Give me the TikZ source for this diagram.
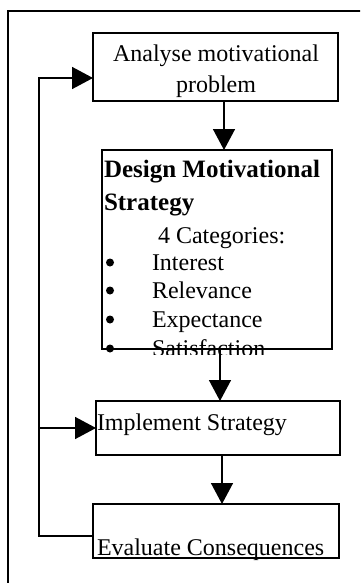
\documentclass[tikz,border=0pt]{standalone}
\usepackage{fontspec}
\setmainfont{Liberation Serif}
\usetikzlibrary{arrows.meta}
\begin{document}
\begin{tikzpicture}[x=1pt,y=-1pt,
  line width=1.5pt,
  box/.style={draw, line width=1.5pt, inner sep=0pt, outer sep=0pt},
  txt/.style={inner sep=0pt, outer sep=0pt, font=\fontsize{24pt}{30pt}\selectfont},
  btxt/.style={inner sep=0pt, outer sep=0pt, font=\fontsize{25pt}{30pt}\selectfont\bfseries},
  dot/.style={circle, fill, draw=none, inner sep=0pt, minimum size=8pt},
  arr/.style={-{Triangle[length=21pt,width=22pt]}}]
\useasboundingbox (0,0) rectangle (360,583);
\clip (0,0) rectangle (360,583);

% outer frame (only its top and left sides fall inside the page)
\draw[line width=1.5pt] (8,11) rectangle (380,600);

% process boxes
\node[box, minimum width=245pt, minimum height=68pt]  (analyse)   at (215.5,67)  {};
\node[box, minimum width=230pt, minimum height=199pt] (design)    at (217,249.5) {};
\node[box, minimum width=244pt, minimum height=54pt]  (implement) at (218,428)   {};
\node[box, minimum width=246pt, minimum height=54pt]  (evaluate)  at (216,531)   {};

% box texts
\node[txt, anchor=base] (t1a) at (216,62) {Analyse motivational};
\node[txt, anchor=base] (t1b) at (216,93) {problem};

\node[btxt, anchor=base west] (t2a) at (104,177) {Design Motivational};
\node[btxt, anchor=base west] (t2b) at (104,210) {Strategy};
\node[txt, anchor=base west] (t2c) at (158,243) {4 Categories:};
\begin{scope}
  \clip (0,0) rectangle (360,354);
  \foreach \name/\item/\yy in {b1/Interest/270, b2/Relevance/298, b3/Expectance/327, b4/Satisfaction/356}{
    \node[dot] (\name dot) at (110,\yy-7.5) {};
    \node[txt, anchor=base west] (\name) at (152,\yy) {\item};
  }
\end{scope}

\node[txt, anchor=base west] (t3) at (97,430) {Implement Strategy};
\node[txt, anchor=base west] (t4) at (97,555) {Evaluate Consequences};

% forward flow
\draw[arr] ([xshift=8.5pt]analyse.south) -- ([xshift=8.5pt]analyse.south |- design.north);
\draw[arr] ([xshift=3pt]design.south) -- ([xshift=3pt]design.south |- implement.north);
\draw[arr] ([xshift=4pt]implement.south) -- ([xshift=4pt]implement.south |- evaluate.north);

% feedback loop
\coordinate (fbbot) at (39,536);
\coordinate (fbtop) at (39,78);
\draw[arr] ([yshift=-5pt]evaluate.west) -- (fbbot) -- (fbtop) -- ([yshift=-11pt]analyse.west);
\draw[arr] (implement.west -| fbbot) -- (implement.west);
\end{tikzpicture}
\end{document}
